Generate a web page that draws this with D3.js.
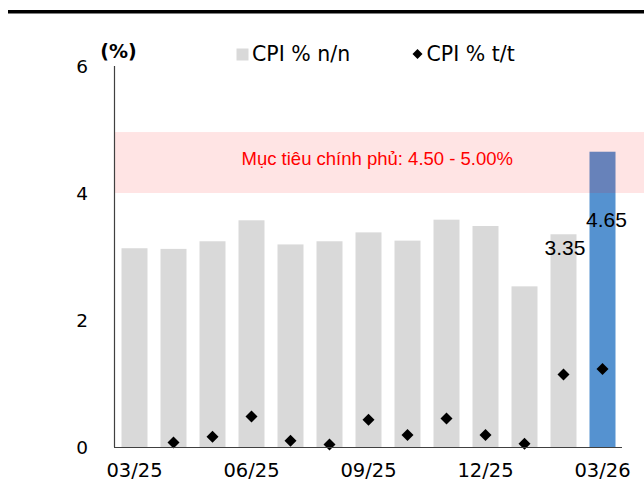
<!DOCTYPE html>
<html>
<head>
<meta charset="utf-8">
<script src="https://cdn.jsdelivr.net/npm/d3@7"></script>
<style>
  html, body { margin: 0; padding: 0; background: #fff; }
  svg { display: block; }
</style>
</head>
<body>
<svg id="chart" width="644" height="485"></svg>
<script>
// ---- data ----
const months = ["03/25","04/25","05/25","06/25","07/25","08/25","09/25","10/25","11/25","12/25","01/26","02/26","03/26"];
const cpiYoY = [3.13, 3.12, 3.24, 3.57, 3.19, 3.24, 3.38, 3.25, 3.58, 3.48, 2.53, 3.35, 4.65];
const cpiMoM = [null, 0.07, 0.16, 0.48, 0.10, 0.04, 0.43, 0.19, 0.45, 0.19, 0.05, 1.14, 1.23];
const xTickLabels = ["03/25","06/25","09/25","12/25","03/26"];
const yTicks = [0, 2, 4, 6];
const targetBand = [4.0, 4.96];
const targetLabel = "Mục tiêu chính phủ: 4.50 - 5.00%";
const labelledMonths = ["02/26","03/26"];
const legendLabels = ["CPI % n/n", "CPI % t/t"];

// ---- layout ----
const svg = d3.select("#chart");
const x = d3.scaleBand().domain(months).range([115, 622]).paddingInner(1/3).paddingOuter(1/6);
const y = d3.scaleLinear().domain([0, 6]).range([447, 66]);

// top rule
svg.append("rect").attr("x", 8).attr("y", 10).attr("width", 636).attr("height", 3.5).attr("fill", "#000");

// bars
svg.append("g").selectAll("rect").data(months).join("rect")
  .attr("x", d => x(d))
  .attr("width", x.bandwidth())
  .attr("y", (d, i) => y(cpiYoY[i]))
  .attr("height", (d, i) => y(0) - y(cpiYoY[i]))
  .attr("fill", (d, i) => i === months.length - 1 ? "#5592d0" : "#d9d9d9");

// target band (overlay)
svg.append("rect")
  .attr("x", 114).attr("width", 644 - 114)
  .attr("y", y(targetBand[1])).attr("height", y(targetBand[0]) - y(targetBand[1]))
  .attr("fill", "rgba(255,0,0,0.105)");
svg.append("text")
  .attr("x", 241.5).attr("y", 165)
  .attr("font-family", "Liberation Sans, Arial, sans-serif")
  .attr("font-size", 18.5).attr("fill", "#ff0000")
  .text(targetLabel);

// diamonds
svg.append("g").selectAll("path").data(months.filter((d, i) => cpiMoM[i] !== null)).join("path")
  .attr("d", d => {
    const i = months.indexOf(d);
    const cx = x(d) + x.bandwidth() / 2, cy = y(cpiMoM[i]), r = 6;
    return `M${cx},${cy - r}L${cx + r},${cy}L${cx},${cy + r}L${cx - r},${cy}Z`;
  })
  .attr("fill", "#000");

// axes lines
svg.append("line").attr("x1", 114.5).attr("x2", 114.5).attr("y1", y(6)).attr("y2", y(0))
  .attr("stroke", "#404040").attr("stroke-width", 1.2);
svg.append("line").attr("x1", 114).attr("x2", 622).attr("y1", y(0) + 0.5).attr("y2", y(0) + 0.5)
  .attr("stroke", "#404040").attr("stroke-width", 1.2);

// y tick labels
svg.append("g").selectAll("text").data(yTicks).join("text")
  .attr("x", 88).attr("y", d => y(d)).attr("dy", "0.36em")
  .attr("text-anchor", "end")
  .attr("font-family", "DejaVu Sans, sans-serif").attr("font-size", 18.5).attr("fill", "#000")
  .text(d => d);

// x tick labels
svg.append("g").selectAll("text").data(xTickLabels).join("text")
  .attr("x", d => x(d) + x.bandwidth() / 2).attr("y", 477)
  .attr("text-anchor", "middle")
  .attr("font-family", "DejaVu Sans, sans-serif").attr("font-size", 19.5).attr("fill", "#000")
  .text(d => d);

// unit label
svg.append("text").attr("x", 118.5).attr("y", 57.5).attr("text-anchor", "middle")
  .attr("font-family", "DejaVu Sans, sans-serif").attr("font-size", 19).attr("font-weight", "bold")
  .text("(%)");

// data labels
const labelOffsets = {"02/26": 21, "03/26": 75};
svg.append("g").selectAll("text").data(labelledMonths).join("text")
  .attr("x", d => x(d) + x.bandwidth() / 2 + (d === "03/26" ? 4 : 1.5))
  .attr("y", d => y(cpiYoY[months.indexOf(d)]) + labelOffsets[d])
  .attr("text-anchor", "middle")
  .attr("font-family", "Liberation Sans, Arial, sans-serif").attr("font-size", 21).attr("fill", "#000")
  .text(d => cpiYoY[months.indexOf(d)].toFixed(2));

// legend
const lg = svg.append("g");
lg.append("rect").attr("x", 236.5).attr("y", 48.5).attr("width", 12).attr("height", 12).attr("fill", "#d9d9d9");
lg.append("text").attr("x", 252).attr("y", 61).attr("font-family", "DejaVu Sans, sans-serif")
  .attr("font-size", 20.5).text(legendLabels[0]);
lg.append("path").attr("d", "M417.5,49L422.5,54L417.5,59L412.5,54Z").attr("fill", "#000");
lg.append("text").attr("x", 426.5).attr("y", 61).attr("font-family", "DejaVu Sans, sans-serif")
  .attr("font-size", 20.5).text(legendLabels[1]);
</script>
</body>
</html>
